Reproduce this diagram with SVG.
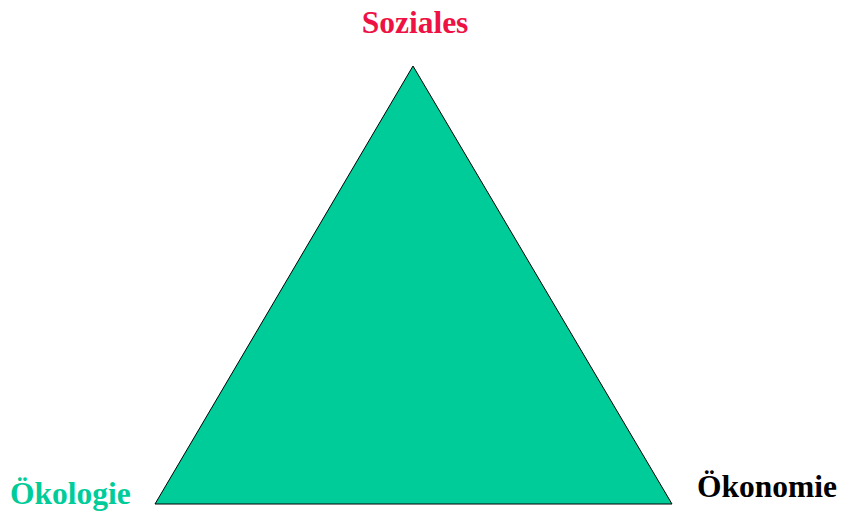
<svg xmlns="http://www.w3.org/2000/svg" width="849" height="520" viewBox="0 0 849 520">
<style>
text{font-family:"Liberation Serif","Times New Roman",serif;font-weight:bold;font-size:31.5px}
</style>
<rect width="849" height="520" fill="#fff"/>
<g id="triangle"><polygon points="413,66 155,504 672,504" fill="#00CC99" stroke="#000" stroke-width="1"/></g>
<g id="connectors"></g>
<g id="soziales"><text x="415" y="33" text-anchor="middle" fill="#EE1144">Soziales</text></g>
<g id="oekologie"><text x="10" y="504" fill="#00CC99">Ökologie</text></g>
<g id="oekonomie"><text x="697" y="497" fill="#000">Ökonomie</text></g>
</svg>
